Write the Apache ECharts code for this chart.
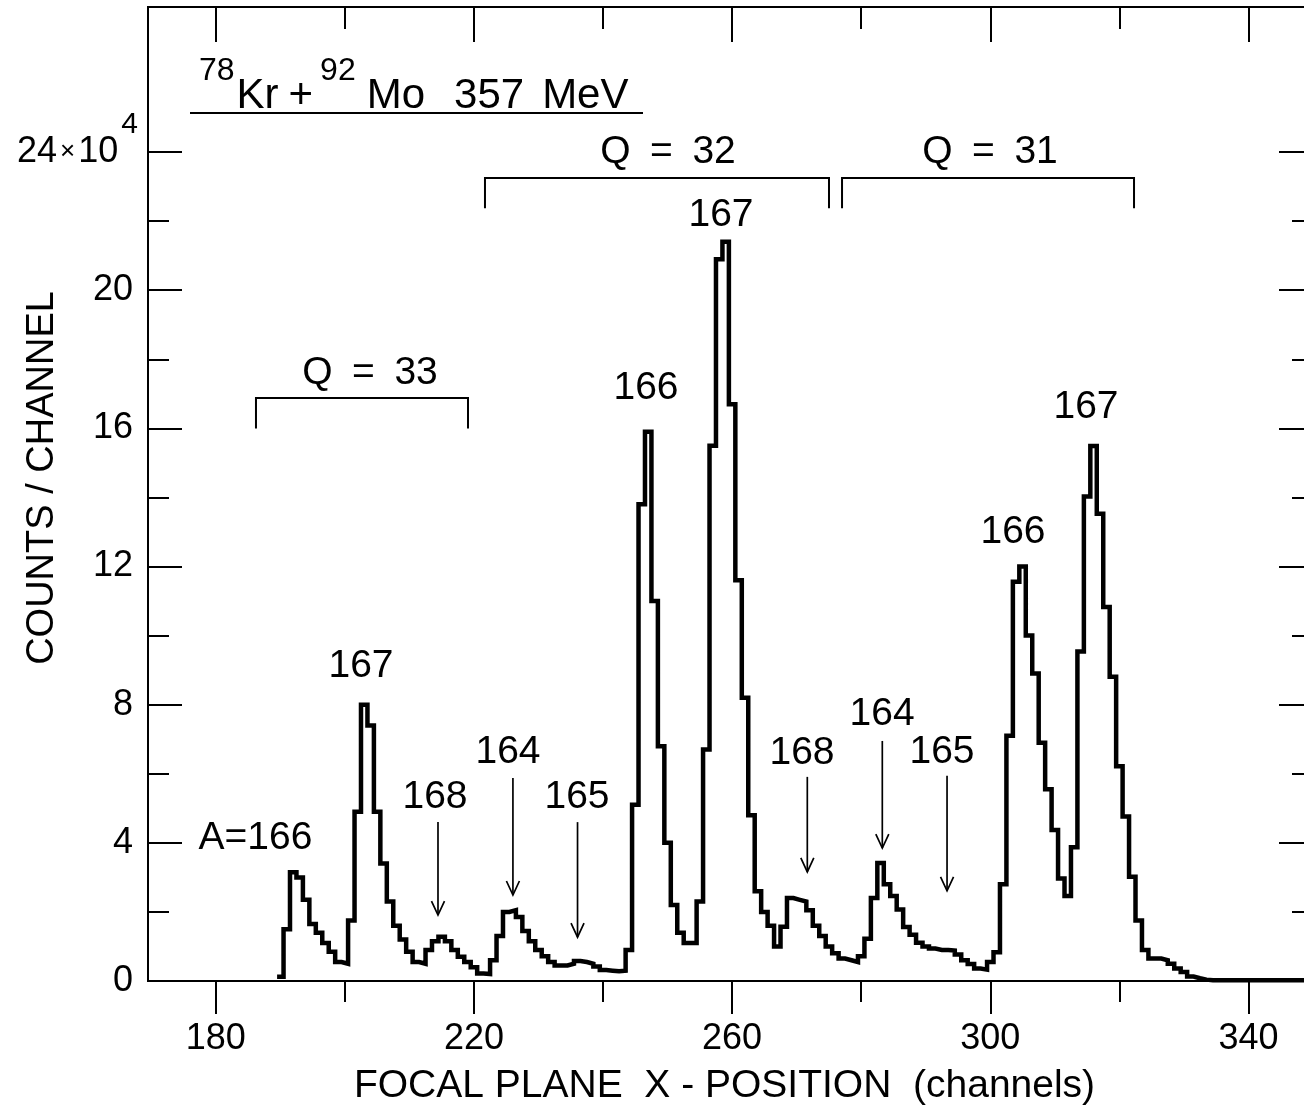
<!DOCTYPE html>
<html>
<head>
<meta charset="utf-8">
<title>78Kr + 92Mo 357 MeV focal plane spectrum</title>
<script src="https://cdn.jsdelivr.net/npm/echarts@6/dist/echarts.min.js"></script>
<style>
  html, body { margin: 0; padding: 0; background: #fff; }
  #chart { width: 1304px; height: 1109px; }
</style>
</head>
<body>
<div id="chart"></div>
<script>
// Counts per channel in units of 10^4, one value per channel from firstChannel on.
const firstChannel = 190;
const counts = [
  0.12, 1.5, 3.15, 3.0, 2.35, 1.65, 1.4, 1.1, 0.85, 0.55,      // 190-199
  0.5, 1.75, 4.9, 8.0, 7.4, 4.9, 3.4, 2.3, 1.6, 1.2,           // 200-209
  0.85, 0.55, 0.5, 0.9, 1.15, 1.28, 1.15, 0.9, 0.7, 0.55,      // 210-219
  0.4, 0.22, 0.2, 0.6, 1.3, 2.0, 2.05, 1.85, 1.45, 1.15,       // 220-229
  0.9, 0.72, 0.55, 0.45, 0.45, 0.5, 0.58, 0.55, 0.5, 0.42,     // 230-239
  0.32, 0.3, 0.28, 0.3, 0.9, 5.1, 13.8, 15.9, 11.0, 6.8,       // 240-249
  4.0, 2.2, 1.4, 1.1, 1.1, 2.3, 6.7, 15.5, 20.9, 21.4,         // 250-259
  16.7, 11.6, 8.2, 4.8, 2.6, 2.0, 1.6, 1.0, 1.57, 2.4,         // 260-269
  2.35, 2.3, 2.05, 1.6, 1.3, 1.0, 0.8, 0.65, 0.6, 0.55,        // 270-279
  0.72, 1.22, 2.4, 3.42, 2.8, 2.46, 2.07, 1.56, 1.34, 1.11,    // 280-289
  1.0, 0.94, 0.9, 0.9, 0.88, 0.77, 0.6, 0.49, 0.36, 0.33,      // 290-299
  0.55, 0.83, 2.8, 7.1, 11.56, 12.0, 10.0, 8.9, 6.9, 5.55,     // 300-309
  4.37, 2.97, 2.46, 3.87, 9.54, 14.03, 15.49, 13.53, 10.83, 8.81, // 310-319
  6.22, 4.76, 3.02, 1.75, 0.9, 0.65, 0.65, 0.6, 0.5, 0.36,     // 320-329
  0.26, 0.13, 0.08, 0.04, 0.02, 0.02, 0.02, 0.02, 0.02, 0.02,  // 330-339
  0.02, 0.02, 0.02, 0.02, 0.02, 0.02, 0.02, 0.02, 0.02, 0.02   // 340-349
];
const channels = counts.map((_, i) => firstChannel + i);

// Axis ticks and labels
const xMajorTicks = [180, 220, 260, 300, 340];
const xMinorTicks = [200, 240, 280, 320];
const yMajorTicks = [0, 4, 8, 12, 16, 20, 24];
const yMinorTicks = [2, 6, 10, 14, 18, 22];
const yLabelValues = [0, 4, 8, 12, 16, 20, 24];
const xTitle = 'FOCAL PLANE  X - POSITION  (channels)';
const yTitle = 'COUNTS / CHANNEL';

// Mass-number labels (channel, counts of the text centre)
const massText = ['A=166', '167', '168', '164', '165', '166', '167', '168', '164', '165', '166', '167'];
const massChannel = [186.15, 202.5, 213.97, 225.28, 235.97, 246.66, 258.28, 270.83, 283.23, 292.52, 303.52, 314.83];
const massCount = [4.14, 9.12, 5.33, 6.63, 5.33, 17.17, 22.18, 6.6, 7.73, 6.63, 13.0, 16.62];

// Arrows marking the weak masses
const arrowChannel = [214.43, 226.04, 236.05, 271.65, 283.27, 293.3];
const arrowFrom = [4.6, 5.88, 4.6, 5.91, 6.95, 5.94];
const arrowTo = [1.91, 2.49, 1.27, 3.16, 3.85, 2.61];

// Charge-state brackets
const chargeText = ['Q\u2002=\u200233', 'Q\u2002=\u200232', 'Q\u2002=\u200231'];
const chargeFrom = [186.23, 221.71, 277.03];
const chargeTo = [219.08, 275.01, 322.27];
const chargeBar = [16.88, 23.25, 23.25];
const chargeFoot = [16.0, 22.37, 22.37];
const chargeTextChannel = [203.9, 250.07, 299.96];
const chargeTextCount = [17.6, 24.0, 24.0];

const FONT = '"Liberation Sans", Arial, Helvetica, sans-serif';
const INK = '#000';

// Histogram outline: each channel is a bin [c - 0.5, c + 0.5]
const histogram = channels.map((c, i) => [c - 0.5, counts[i]]);
histogram.push([channels[channels.length - 1] + 0.5, counts[counts.length - 1]]);

const X_MIN = 169.5, X_MAX = 350;
const tickStyle = { color: INK, width: 2 };
function xAxisDef(position, ticks, length, inside, withLabels) {
  return {
    type: 'value', position, min: X_MIN, max: X_MAX,
    axisLine: { show: false, onZero: false },
    splitLine: { show: false },
    axisTick: { show: true, inside, length, customValues: ticks, lineStyle: tickStyle },
    axisLabel: withLabels
      ? { show: true, customValues: ticks, margin: 40, fontSize: 36, fontFamily: FONT, color: INK }
      : { show: false }
  };
}
function yAxisDef(position, ticks, length, withLabels) {
  return {
    type: 'value', position, min: 0, max: 28.2,
    axisLine: { show: false, onZero: false },
    splitLine: { show: false },
    axisTick: { show: true, inside: true, length, customValues: ticks, lineStyle: tickStyle },
    axisLabel: withLabels ? {
      show: true, customValues: yLabelValues, margin: 10, color: INK,
      formatter: v => v === 24 ? '{n|24}{x|×}{n|10}{s|4}' : '{p|' + v + '}',
      rich: {
        p: { fontSize: 36, fontFamily: FONT, color: INK, padding: [0, 5, 0, 0] },
        n: { fontSize: 36, fontFamily: FONT, color: INK, lineHeight: 84 },
        x: { fontSize: 26, fontFamily: FONT, color: INK, lineHeight: 84, padding: [0, 3, 0, 3] },
        s: { fontSize: 30, fontFamily: FONT, color: INK, lineHeight: 30, verticalAlign: 'top', padding: [0, 0, 0, 3] }
      }
    } : { show: false }
  };
}

const xAxes = [
  xAxisDef('bottom', xMajorTicks, 33, false, true),
  xAxisDef('bottom', xMinorTicks, 21, false, false),
  xAxisDef('top', xMajorTicks, 35, true, false),
  xAxisDef('top', xMinorTicks, 22, true, false)
];
Object.assign(xAxes[0], {
  name: xTitle,
  nameLocation: 'middle', nameGap: 86,
  nameTextStyle: { fontSize: 39, fontFamily: FONT, color: INK, padding: [0, 12, 0, 0] }
});

const yAxes = [
  yAxisDef('left', yMajorTicks, 34, true),
  yAxisDef('left', yMinorTicks, 21, false),
  yAxisDef('right', yMajorTicks, 34, false),
  yAxisDef('right', yMinorTicks, 21, false)
];

const labelFont = '39px ' + FONT;

// Title pieces: superscript mass numbers sit at the top of the line
const titleMain = { fontSize: 42, fontWeight: 'normal', fontFamily: FONT, color: INK, lineHeight: 62, verticalAlign: 'bottom' };
const titleSup = { fontSize: 32, fontWeight: 'normal', fontFamily: FONT, color: INK, lineHeight: 32, verticalAlign: 'top' };

const option = {
  animation: false,
  backgroundColor: '#fff',
  title: {
    text: '{s|78}{k|Kr}{p|+}{t|92}{m|Mo}{n|357}{v|MeV}',
    left: 199, top: 55, padding: 0,
    textStyle: {
      fontWeight: 'normal',
      rich: {
        s: titleSup,
        t: Object.assign({}, titleSup, { padding: [0, 0, 0, 7] }),
        k: Object.assign({}, titleMain, { padding: [0, 0, 0, 2] }),
        p: Object.assign({}, titleMain, { padding: [0, 0, 0, 10] }),
        m: Object.assign({}, titleMain, { padding: [0, 0, 0, 11] }),
        n: Object.assign({}, titleMain, { padding: [0, 0, 0, 29] }),
        v: Object.assign({}, titleMain, { padding: [0, 0, 0, 18] })
      }
    }
  },
  graphic: [
    { type: 'line', shape: { x1: 190, y1: 113, x2: 643, y2: 113 }, style: { stroke: INK, lineWidth: 2 }, silent: true },
    {
      type: 'text', x: 43, y: 478, rotation: Math.PI / 2, silent: true,
      style: { text: yTitle, font: '38px ' + FONT, fill: INK, align: 'center', verticalAlign: 'middle' }
    }
  ],
  grid: {
    left: 148, right: -9, top: 7, bottom: 128,
    show: true, borderColor: INK, borderWidth: 2, backgroundColor: 'transparent',
    containLabel: false, outerBoundsMode: 'none'
  },
  xAxis: xAxes,
  yAxis: yAxes,
  series: [
    {
      type: 'line', name: 'counts', xAxisIndex: 0, yAxisIndex: 0,
      data: histogram, step: 'end', symbol: 'none', silent: true, z: 3,
      lineStyle: { color: INK, width: 4.5, join: 'miter', cap: 'butt' }
    },
    {
      type: 'custom', name: 'charge states', xAxisIndex: 0, yAxisIndex: 0, silent: true, z: 4,
      data: chargeText.map((_, i) => [chargeFrom[i], chargeBar[i], chargeTo[i], chargeFoot[i]]),
      renderItem: (params, api) => {
        const i = params.dataIndex;
        const a = api.coord([chargeFrom[i], chargeFoot[i]]);
        const b = api.coord([chargeFrom[i], chargeBar[i]]);
        const c = api.coord([chargeTo[i], chargeBar[i]]);
        const d = api.coord([chargeTo[i], chargeFoot[i]]);
        const t = api.coord([chargeTextChannel[i], chargeTextCount[i]]);
        return {
          type: 'group',
          children: [
            { type: 'polyline', shape: { points: [a, b, c, d] }, style: { stroke: INK, fill: null, lineWidth: 2 } },
            { type: 'text', x: t[0], y: t[1], style: { text: chargeText[i], font: labelFont, fill: INK, align: 'center', verticalAlign: 'middle' } }
          ]
        };
      }
    },
    {
      type: 'custom', name: 'arrows', xAxisIndex: 0, yAxisIndex: 0, silent: true, z: 4,
      data: arrowChannel.map((c, i) => [c, arrowFrom[i], arrowTo[i]]),
      renderItem: (params, api) => {
        const i = params.dataIndex;
        const top = api.coord([arrowChannel[i], arrowFrom[i]]);
        const tip = api.coord([arrowChannel[i], arrowTo[i]]);
        return {
          type: 'group',
          children: [
            { type: 'line', shape: { x1: top[0], y1: top[1], x2: tip[0], y2: tip[1] }, style: { stroke: INK, lineWidth: 1.7 } },
            { type: 'polyline', shape: { points: [[tip[0] - 6.5, tip[1] - 14], [tip[0], tip[1]], [tip[0] + 6.5, tip[1] - 14]] },
              style: { stroke: INK, fill: null, lineWidth: 1.7 } }
          ]
        };
      }
    },
    {
      type: 'custom', name: 'mass labels', xAxisIndex: 0, yAxisIndex: 0, silent: true, z: 4,
      data: massText.map((_, i) => [massChannel[i], massCount[i]]),
      renderItem: (params, api) => {
        const i = params.dataIndex;
        const p = api.coord([massChannel[i], massCount[i]]);
        return {
          type: 'text', x: p[0], y: p[1],
          style: { text: massText[i], font: labelFont, fill: INK, align: 'center', verticalAlign: 'middle' }
        };
      }
    }
  ]
};

const chart = echarts.init(document.getElementById('chart'), null, { renderer: 'canvas' });
chart.setOption(option);
</script>
</body>
</html>
